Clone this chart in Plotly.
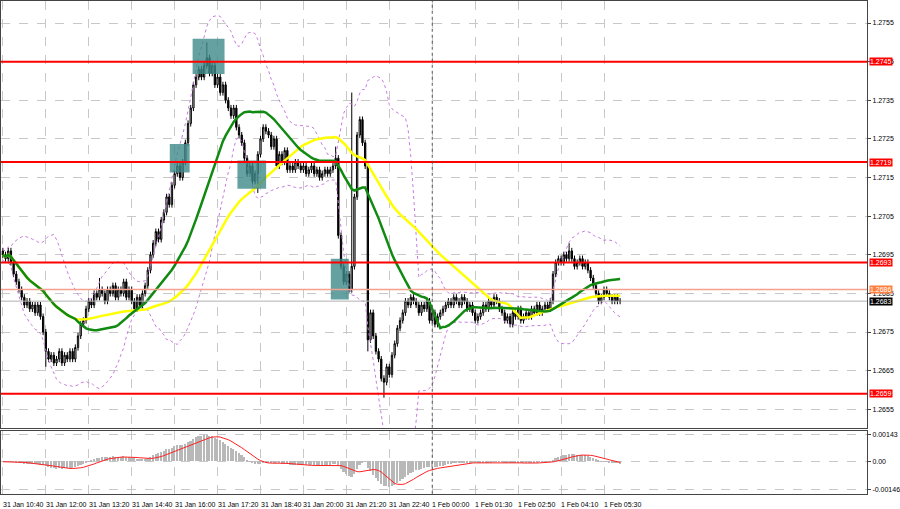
import plotly.graph_objects as go
import pandas as pd
import numpy as np

# closes in pips above 1.2600, one value per 5-min bar
closes_pips = [95, 94, 96, 93, 90, 88, 86, 84, 82, 83, 81, 82, 80, 82, 79,
    75, 70, 68, 69, 67, 68, 70, 67, 69, 68, 70, 68, 71, 74, 77, 78, 81,
    83, 82, 85, 84, 86, 85, 83, 86, 85, 87, 84, 86, 85, 88, 84, 86,
    83, 81, 84, 82, 85, 87, 91, 95, 98, 101, 99, 104, 106, 110, 108, 113, 116,
    118, 115, 119, 124, 129, 133, 139, 141, 143, 141, 144, 146, 142, 144,
    139, 141, 137, 139, 135, 133, 131, 133, 128, 126, 124,
    120, 116, 118, 114, 116, 121, 125, 128, 127, 126, 123,
    125, 118, 121, 119, 122, 117,
    118, 117, 119, 118, 117, 118, 116, 117, 118, 116, 117, 115, 116, 117, 116, 117, 118,
    120, 100, 92, 88, 90, 86, 92, 110, 126, 130, 124, 118, 73,
    80, 74, 70, 68, 63, 62, 66, 64, 69, 72, 76, 78, 80, 83, 82, 84, 83, 82,
    80, 82, 81, 83, 78, 80, 77, 79,
    80, 81, 82, 83, 82, 84, 83, 82, 84, 83, 81,
    82, 80, 78, 79, 80, 82, 81, 83, 82, 84, 83, 81,
    80, 78, 79, 77, 80, 79, 81, 78, 79, 80, 79, 81, 80, 82, 80, 81, 82, 81, 83,
    90, 93, 94, 93, 95, 94, 96, 94, 92, 93, 94, 92, 93, 91, 89, 87,
    85, 83, 84, 86, 85, 84, 83, 84, 83, 83]
first_open_pips = 96
extreme_highs = {76: 150, 130: 137, 124: 123, 211: 98, 36: 89}
extreme_lows = {142: 58, 16: 66, 136: 70, 95: 111}

time_labels = ["31 Jan 10:40", "31 Jan 12:00", "31 Jan 13:20", "31 Jan 14:40", "31 Jan 16:00",
               "31 Jan 17:20", "31 Jan 18:40", "31 Jan 20:00", "31 Jan 21:20", "31 Jan 22:40",
               "1 Feb 00:00", "1 Feb 01:30", "1 Feb 02:50", "1 Feb 04:10", "1 Feb 05:30"]
label_bars = [0, 16, 32, 48, 64, 80, 96, 112, 128, 144, 160, 176, 192, 208, 224]

price_ticks = [1.2655, 1.2665, 1.2675, 1.2685, 1.2695, 1.2705, 1.2715, 1.2725, 1.2735, 1.2745, 1.2755]
red_levels = [1.2745, 1.2719, 1.2693, 1.2659]
orange_level = 1.2686
last_price = 1.2683
# signal zones: (bar0, bar1, price_low, price_high)
zones = [(70.7, 82.6, 1.27418, 1.27509), (62.2, 69.6, 1.27163, 1.27237),
         (87.4, 98.1, 1.27121, 1.27194), (122.2, 128.9, 1.26834, 1.26940)]

c = np.array(closes_pips, float)
o = np.concatenate([[first_open_pips], c[:-1]])
h = np.maximum(o, c) + 0.8
l = np.minimum(o, c) - 0.8
for k, v in extreme_highs.items():
    if k < len(h): h[k] = v
for k, v in extreme_lows.items():
    if k < len(l): l[k] = v
to_p = lambda a: 1.26 + np.asarray(a) / 10000
O, H, L, C = to_p(o), to_p(h), to_p(l), to_p(c)
x = np.arange(len(C))
s = pd.Series(C)
sma_fast = s.rolling(28, min_periods=1).mean()
sma_slow = s.rolling(58, min_periods=1).mean()
mid = s.rolling(20, min_periods=1).mean()
sd = s.rolling(20, min_periods=2).std().bfill()
bb_up, bb_dn = mid + 2 * sd, mid - 2 * sd
macd = s.ewm(span=12).mean() - s.ewm(span=26).mean()
sig = macd.rolling(9, min_periods=1).mean()

fig = go.Figure()
fig.add_trace(go.Candlestick(x=x, open=O, high=H, low=L, close=C,
    increasing=dict(line=dict(color="black", width=1), fillcolor="#e8e8e8"),
    decreasing=dict(line=dict(color="black", width=1), fillcolor="black"),
    whiskerwidth=0, showlegend=False, xaxis="x", yaxis="y"))
for yy in (bb_up, bb_dn):
    fig.add_trace(go.Scatter(x=x, y=yy, mode="lines", line=dict(color="#c77be0", width=1, dash="dot"),
                             showlegend=False, hoverinfo="skip"))
fig.add_trace(go.Scatter(x=x, y=sma_slow, mode="lines", line=dict(color="#ffff00", width=2.5), showlegend=False))
fig.add_trace(go.Scatter(x=x, y=sma_fast, mode="lines", line=dict(color="#108a10", width=2.5), showlegend=False))
fig.add_trace(go.Bar(x=x, y=macd, marker=dict(color="#b8b8b8", line=dict(width=0)), width=0.6,
                     xaxis="x2", yaxis="y2", showlegend=False))
fig.add_trace(go.Scatter(x=x, y=sig, mode="lines", line=dict(color="#ff2020", width=1),
                         xaxis="x2", yaxis="y2", showlegend=False))

shapes = []
for b0, b1, p0, p1 in zones:
    shapes.append(dict(type="rect", xref="x", yref="y", x0=b0, x1=b1, y0=p0, y1=p1,
                       fillcolor="#3f8a8a", opacity=0.8, line=dict(width=0), layer="above"))
for lv in red_levels:
    shapes.append(dict(type="line", xref="paper", yref="y", x0=0, x1=1, y0=lv, y1=lv,
                       line=dict(color="#ff0000", width=2)))
shapes.append(dict(type="line", xref="paper", yref="y", x0=0, x1=1, y0=orange_level, y1=orange_level,
                   line=dict(color="#f4a090", width=1.5)))
shapes.append(dict(type="line", xref="paper", yref="y", x0=0, x1=1, y0=last_price, y1=last_price,
                   line=dict(color="#b0b0b0", width=1)))
shapes.append(dict(type="line", xref="x", yref="paper", x0=160, x1=160, y0=0.03, y1=1,
                   line=dict(color="#555", width=1, dash="dot")))
fig.update_layout(shapes=shapes)

ann = []
for b, t in zip(label_bars, time_labels):
    ann.append(dict(x=b, y=0.0, xref="x", yref="paper", text=t, showarrow=False, xanchor="left",
                    yanchor="bottom", font=dict(size=7, color="black"), xshift=-2, yshift=-1))
for lv in red_levels:
    ann.append(dict(x=1, y=lv, xref="paper", yref="y", text=f"{lv:.4f}", showarrow=False, xanchor="left",
                    xshift=2, bgcolor="#ff0000", font=dict(size=7, color="white"), borderpad=0))
ann.append(dict(x=1, y=orange_level, xref="paper", yref="y", text=f"{orange_level:.4f}", showarrow=False,
                xanchor="left", xshift=2, bgcolor="#ff7f3f", font=dict(size=7, color="white"), borderpad=0))
ann.append(dict(x=1, y=last_price, xref="paper", yref="y", text=f"{last_price:.4f}", showarrow=False,
                xanchor="left", xshift=2, bgcolor="black", font=dict(size=7, color="white"), borderpad=0))
fig.update_layout(annotations=ann)

grid = dict(showgrid=True, gridcolor="#c8c8c8", griddash="dash", gridwidth=1, zeroline=False,
            showline=True, linecolor="#444", mirror=True)
fig.update_layout(
    width=900, height=509, margin=dict(l=1, r=28, t=1, b=0),
    paper_bgcolor="white", plot_bgcolor="white", font=dict(family="Liberation Sans", size=7, color="black"),
    xaxis=dict(range=[-0.7, 322], domain=[0, 1], tickvals=label_bars, showticklabels=False,
               rangeslider=dict(visible=False), anchor="y", **grid),
    yaxis=dict(range=[1.26501, 1.27607], domain=[0.159, 1], side="right", tickvals=price_ticks,
               tickformat=".4f", ticks="outside", ticklen=3, anchor="x", **grid),
    xaxis2=dict(range=[-0.7, 322], domain=[0, 1], tickvals=label_bars, showticklabels=False,
                anchor="y2", **grid),
    yaxis2=dict(range=[-0.00166, 0.00158], domain=[0.03, 0.153], side="right",
                tickvals=[-0.00146, 0, 0.00143], ticktext=["-0.00146", "0.00", "0.00143"],
                ticks="outside", ticklen=3, anchor="x2", **grid),
    bargap=0,
)
fig.write_html("out.html", config={"displayModeBar": False},
               post_script="document.body.style.margin='0';document.body.style.overflow='hidden';")
